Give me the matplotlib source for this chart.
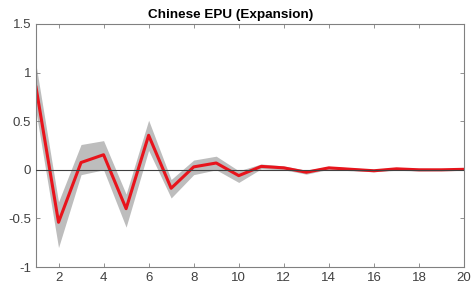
import matplotlib.pyplot as plt
import numpy as np

horizon = np.arange(1, 21)
irf = [0.85, -0.54, 0.075, 0.155, -0.40, 0.355, -0.19, 0.03, 0.07, -0.06,
       0.035, 0.02, -0.025, 0.02, 0.005, -0.01, 0.01, 0.0, 0.0, 0.005]
upper = [1.08, -0.33, 0.26, 0.30, -0.25, 0.51, -0.10, 0.10, 0.14, -0.01,
         0.06, 0.04, -0.005, 0.035, 0.02, 0.005, 0.025, 0.015, 0.012, 0.015]
lower = [0.60, -0.80, -0.05, 0.00, -0.59, 0.20, -0.29, -0.05, 0.00, -0.13,
         0.01, 0.0, -0.045, 0.005, -0.01, -0.02, -0.005, -0.012, -0.01, -0.005]

plt.rcParams["font.family"] = ["Liberation Sans", "DejaVu Sans"]

fig = plt.figure(figsize=(4.73, 2.96), dpi=100)
ax = fig.add_axes([36 / 473, 1 - 267 / 296, (464 - 36) / 473, (267 - 24) / 296])

ax.fill_between(horizon, lower, upper, color="#bdbdbd", linewidth=0, zorder=1)
ax.plot(horizon, irf, color="#e8141c", linewidth=2.2, zorder=2)
ax.axhline(0, color="#404040", linewidth=0.8, zorder=3)

ax.set_xlim(1, 20)
ax.set_ylim(-1, 1.5)
ax.set_xticks(np.arange(2, 21, 2))
ax.set_yticks([-1, -0.5, 0, 0.5, 1, 1.5])
ax.set_yticklabels(["-1", "-0.5", "0", "0.5", "1", "1.5"])
ax.tick_params(direction="in", top=True, right=True, length=3, width=0.6,
               colors="#808080", labelcolor="#404040", labelsize=9.5)
for s in ax.spines.values():
    s.set_color("#808080")
    s.set_linewidth(0.8)

title = ax.set_title("Chinese EPU (Expansion)", fontsize=9.7, fontweight="bold", pad=4)
title.set_x(0.455)

fig.savefig("out.png", dpi=100)
